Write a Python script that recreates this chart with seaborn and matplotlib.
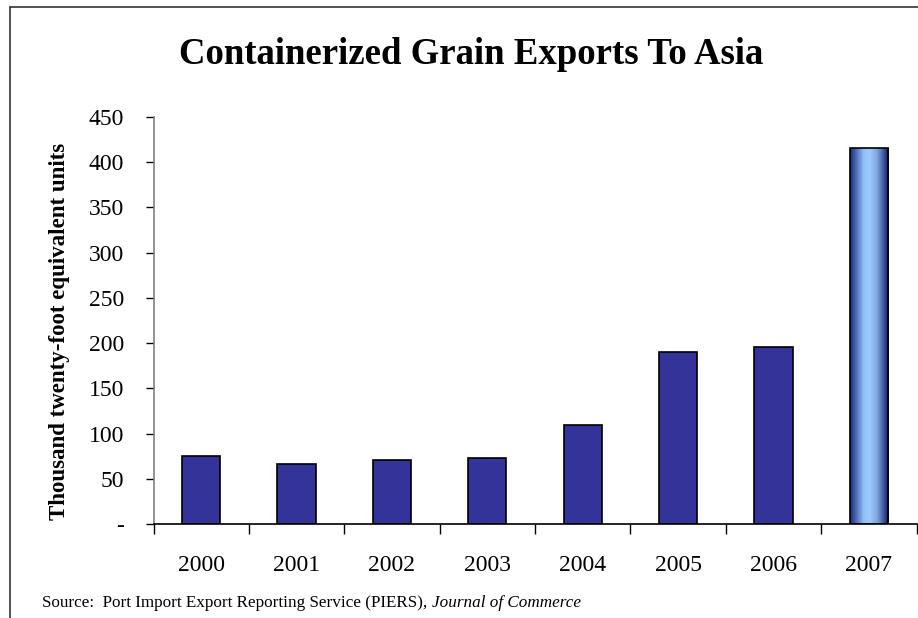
import numpy as np
import pandas as pd
import matplotlib
matplotlib.use("Agg")
import matplotlib.pyplot as plt
from matplotlib.colors import LinearSegmentedColormap
from matplotlib.lines import Line2D
import seaborn as sns

# Containerized grain exports to Asia, thousand TEU
years = ["2000", "2001", "2002", "2003", "2004", "2005", "2006", "2007"]
teu = [75.5, 66.5, 71, 72.5, 109.5, 190, 196, 415.5]
yticks = [0, 50, 100, 150, 200, 250, 300, 350, 400, 450]
ytick_labels = ["-", "50", "100", "150", "200", "250", "300", "350", "400", "450"]

sns.set_theme(style="white")
plt.rcParams["font.family"] = ["Liberation Serif", "DejaVu Serif"]

W, H = 918, 618
fig = plt.figure(figsize=(W / 100, H / 100), dpi=100)
fig.patch.set_facecolor("white")

ax = fig.add_axes([153.5 / W, 1 - 524 / H, (916.5 - 153.5) / W, (524 - 117) / H])
ax.set_facecolor("white")

df = pd.DataFrame({"year": years, "teu": teu})
sns.barplot(data=df, x="year", y="teu", color="#333399", saturation=1,
            edgecolor="black", linewidth=1.2, width=0.4, ax=ax)

# Highlight the latest year with a horizontal blue gradient fill
last = ax.patches[-1]
x0, y0 = last.get_x(), last.get_y()
w, h = last.get_width(), last.get_height()
grad = LinearSegmentedColormap.from_list(
    "bar07",
    [(0.0, "#1a2a80"), (0.15, "#4a68b0"), (0.35, "#8fbff5"), (0.5, "#9ccbff"),
     (0.7, "#7fa5dc"), (0.88, "#3a4f99"), (1.0, "#0a0a60")])
img = np.linspace(0, 1, 256).reshape(1, -1)
im = ax.imshow(img, cmap=grad, aspect="auto", extent=(x0, x0 + w, y0, y0 + h),
               zorder=last.get_zorder() + 0.1, interpolation="bilinear")
im.set_clip_path(last)
last.set_facecolor("none")
last.set_zorder(last.get_zorder() + 0.2)

ax.set_xlim(-0.5, 7.5)
ax.set_ylim(0, 450)
ax.set_yticks(yticks)
ax.set_yticklabels(ytick_labels)
ax.set_xticks(range(len(years)))
ax.set_xticklabels(years)
ax.set_xticks(np.arange(-0.5, 8, 1), minor=True)

ax.tick_params(axis="y", which="major", left=True, direction="out", length=6,
               width=1, color="black", labelsize=17, pad=15)
ax.tick_params(axis="x", which="major", bottom=False, labelsize=17, pad=16)
ax.tick_params(axis="x", which="minor", bottom=True, direction="out", length=7,
               width=1, color="black")
for lab in ax.get_xticklabels() + ax.get_yticklabels():
    lab.set_color("black")

for side in ["top", "right"]:
    ax.spines[side].set_visible(False)
ax.spines["left"].set_color("#808080")
ax.spines["left"].set_linewidth(1.2)
ax.spines["bottom"].set_color("black")
ax.spines["bottom"].set_linewidth(1.2)

ax.set_xlabel("")
ax.set_ylabel("Thousand twenty-foot equivalent units", fontsize=16.5,
              fontweight="bold", color="black")
ax.yaxis.set_label_coords((70 - 153.5) / 763, 0.474)

fig.text(471 / W, 1 - 54 / H, "Containerized Grain Exports To Asia",
         ha="center", va="center", fontsize=26.5, fontweight="bold", color="black")

fig.text(42 / W, 1 - 603 / H, "Source:  Port Import Export Reporting Service (PIERS), ",
         ha="left", va="center", fontsize=12.3, color="black")
src = fig.texts[-1]
fig.canvas.draw()
bb = src.get_window_extent()
fig.text(bb.x1 / W, 1 - 603 / H, "Journal of Commerce", ha="left", va="center",
         fontsize=12.3, style="italic", color="black")

# Outer frame along the left and top edges
fig.add_artist(Line2D([9.5 / W, 9.5 / W], [0, 1 - 6.5 / H], transform=fig.transFigure,
                      color="#333333", linewidth=1.2))
fig.add_artist(Line2D([9.5 / W, 1], [1 - 6.5 / H, 1 - 6.5 / H], transform=fig.transFigure,
                      color="#333333", linewidth=1.2))

fig.savefig("out.png", dpi=100, facecolor="white")
